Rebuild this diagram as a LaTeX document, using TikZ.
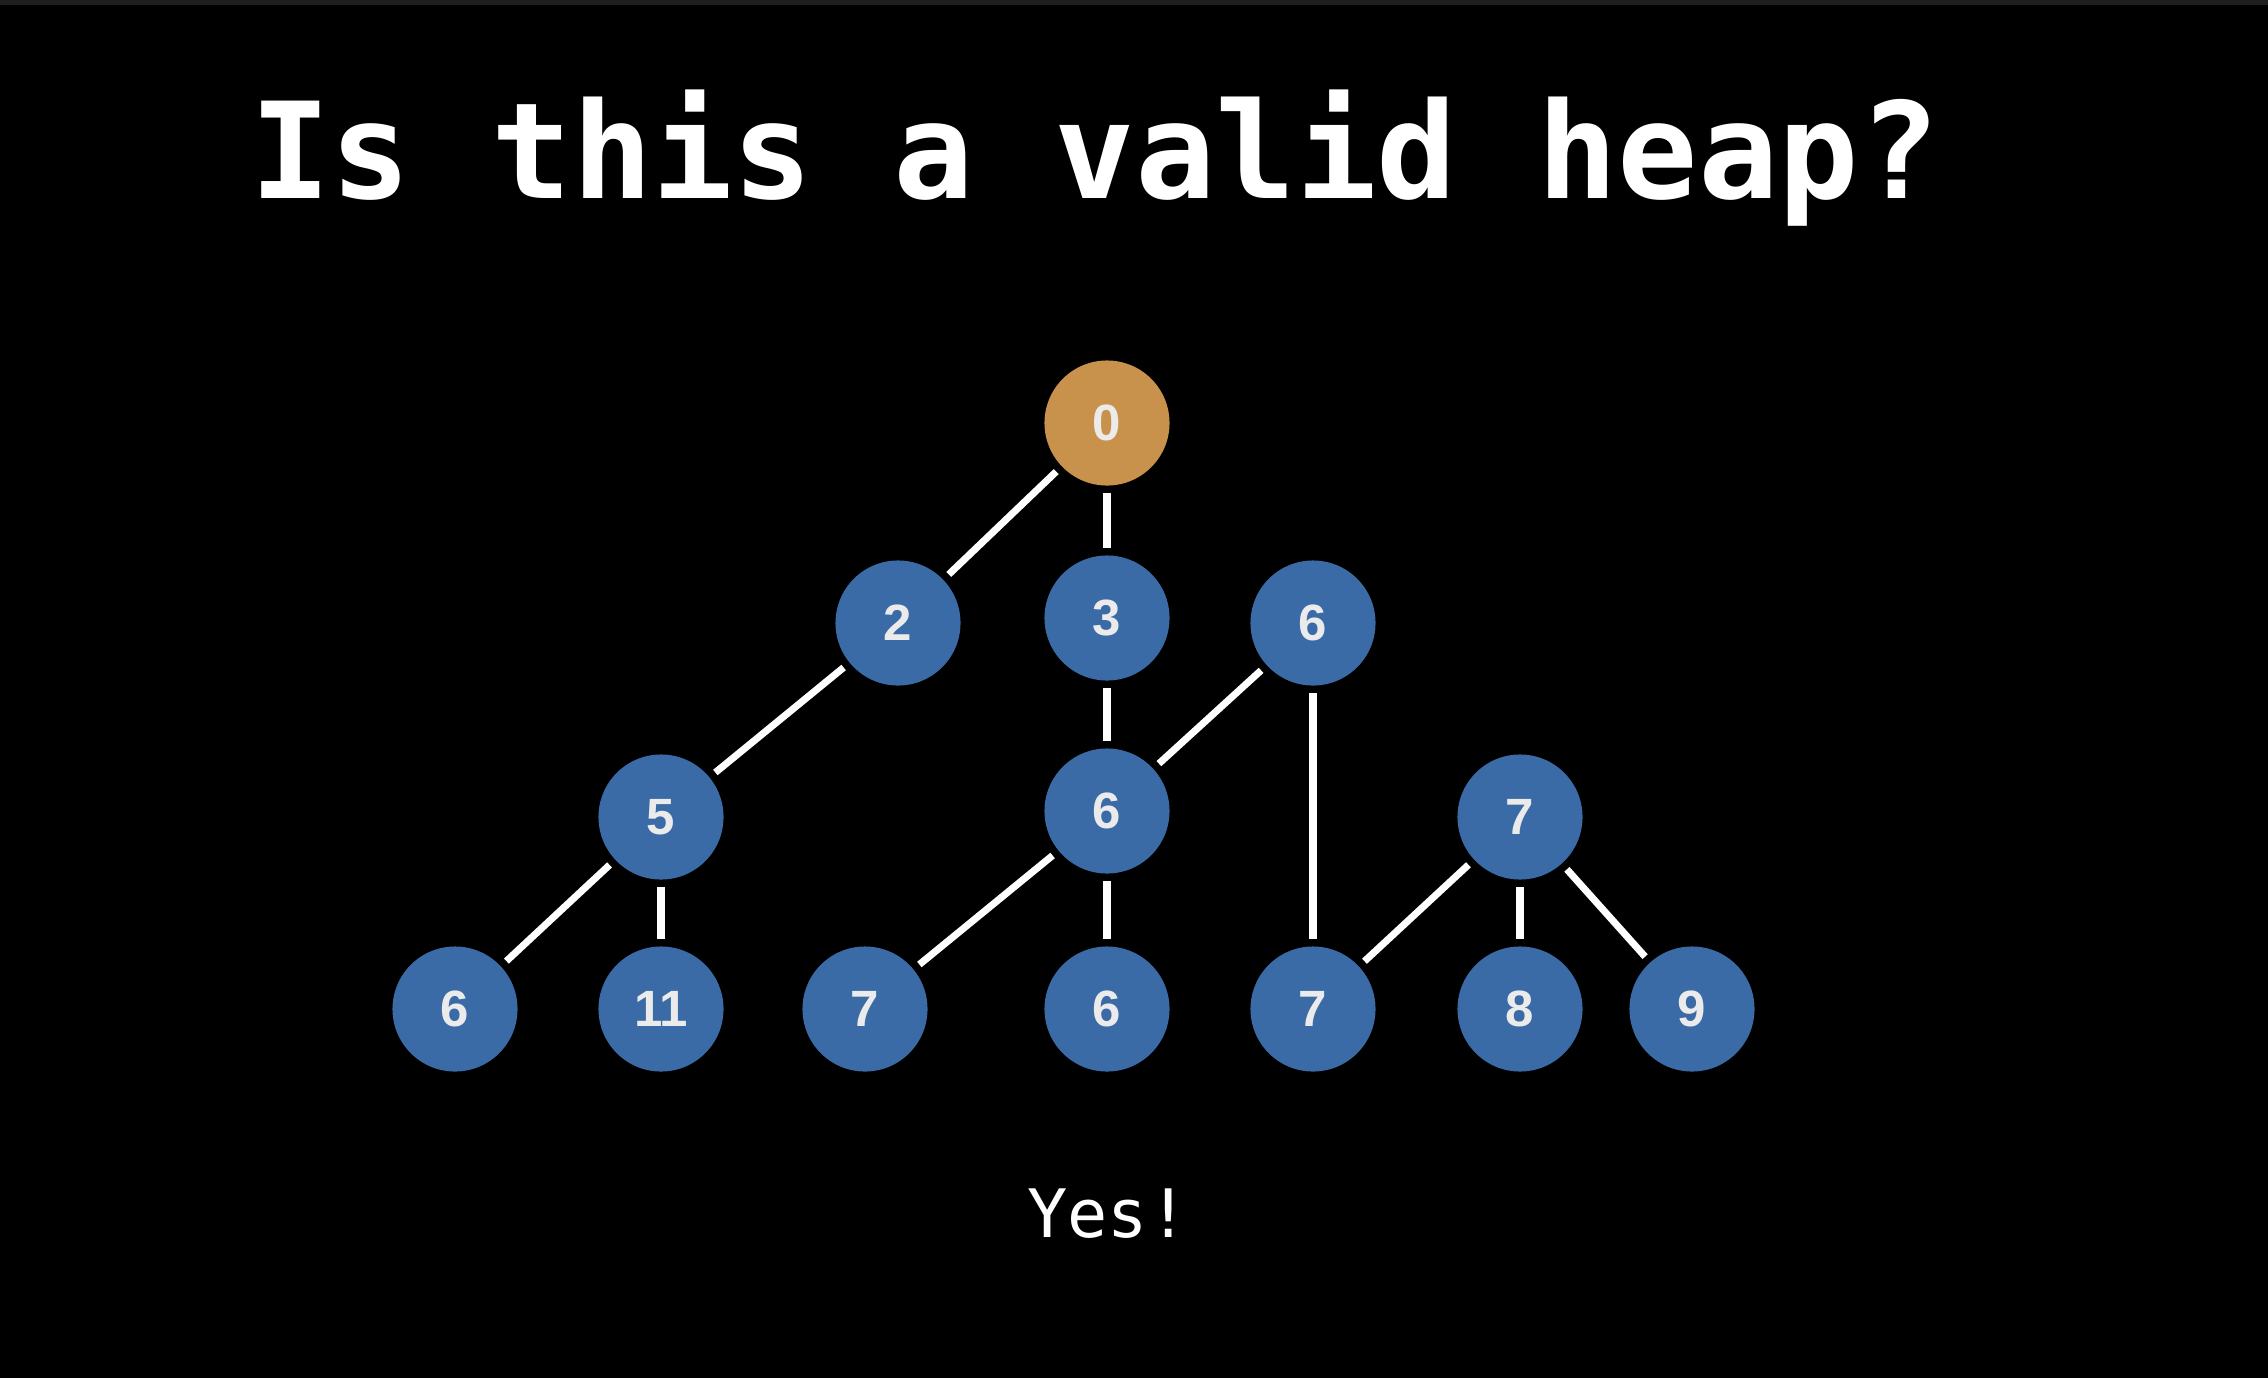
\documentclass[tikz,border=0pt]{standalone}
\usepackage{fontspec}
\newfontfamily\titlefont{DejaVu Sans Mono}
\newfontfamily\keyfont{Liberation Sans}
\definecolor{heapblue}{RGB}{58,107,166}
\definecolor{heaporange}{RGB}{200,146,76}
\definecolor{topband}{RGB}{30,30,30}
\tikzset{
	key/.style={circle, fill=heapblue, minimum size=1.25cm, inner sep=0pt, text=white!92!black, font=\keyfont\bfseries\fontsize{14.5}{16}\selectfont},
	rootkey/.style={key, fill=heaporange},
	edge/.style={white, line width=2pt, shorten <=2pt, shorten >=2pt}
}

\begin{document}
\begin{tikzpicture}[x=0.01cm, y=-0.01cm]
			%%%%% START %%%%%
			\fill[black] (0, 0) rectangle (2268, 1378);
			\fill[topband] (0, 0) rectangle (2268, 5);
			
			\node[anchor=base, white, font=\titlefont\bfseries\fontsize{38}{40}\selectfont] (title) at (1095, 198) {Is this a valid heap?};
			
			\node[rootkey] (r) at (1107, 423) {0};
			
			\node[key] (a) at (898, 623) {2};
			\node[key] (b) at (1107, 618) {3};
			\node[key] (c) at (1313, 623) {6};
			
			\node[key] (aa) at (661, 817) {5};
			\node[key] (ba) at (1107, 811) {6};
			\node[key] (ca) at (1520, 817) {7};
			
			\node[key] (aaa) at (455, 1009) {6};
			\node[key] (aab) at (661, 1009) {11};
			\node[key] (baa) at (865, 1009) {7};
			\node[key] (bab) at (1107, 1009) {6};
			\node[key] (caa) at (1313, 1009) {7};
			\node[key] (cab) at (1520, 1009) {8};
			\node[key] (cac) at (1692, 1009) {9};
			
			\draw[edge] (r) -- (a);
			\draw[edge] (r) -- (b);
			\draw[edge] (a) -- (aa);
			\draw[edge] (b) -- (ba);
			\draw[edge] (c) -- (ba);
			\draw[edge] (c) -- (caa);
			\draw[edge] (aa) -- (aaa);
			\draw[edge] (aa) -- (aab);
			\draw[edge] (ba) -- (baa);
			\draw[edge] (ba) -- (bab);
			\draw[edge] (ca) -- (caa);
			\draw[edge] (ca) -- (cab);
			\draw[edge] (ca) -- (cac);
			
			\node[anchor=base, white, font=\titlefont\fontsize{19}{22}\selectfont] (answer) at (1108, 1237) {Yes!};
			%%%%% END %%%%%
\end{tikzpicture}
\end{document}
